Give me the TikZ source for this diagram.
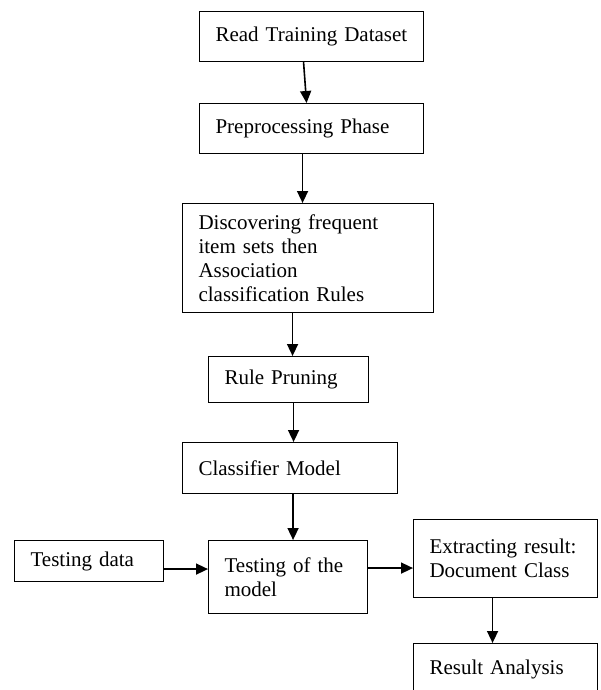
\documentclass[tikz,border=0pt]{standalone}
\usepackage{fontspec}
\setmainfont{Liberation Serif}
\usetikzlibrary{arrows.meta}

\begin{document}
\begin{tikzpicture}[x=1pt, y=-1pt,
		stage/.style={draw, line width=1.1pt, anchor=north west, align=left, inner xsep=16pt, inner ysep=0pt, font=\fontsize{21}{24}\selectfont},
		flow/.style={-{Triangle[length=12pt, width=11pt]}, line width=1.6pt}]
	%%%%% START %%%%%
	\useasboundingbox (0, 0) rectangle (601, 690);
	\clip (0, 0) rectangle (601, 690);
	
	\node[stage, text width=192pt, minimum height=50pt] (read) at (199, 11) {Read Training Dataset};
	\node[stage, text width=192pt, minimum height=50pt] (prep) at (199, 103) {Preprocessing Phase};
	\node[stage, text width=219pt, minimum height=109pt] (disc) at (182, 203) {Discovering frequent\\item sets then\\Association\\classification Rules};
	\node[stage, text width=128pt, minimum height=46pt] (prune) at (208, 356) {Rule Pruning};
	\node[stage, text width=183pt, minimum height=51pt] (clf) at (182, 442) {Classifier Model};
	
	\node[stage, text width=117pt, minimum height=41pt] (tdata) at (14, 540) {Testing data};
	\node[stage, text width=127pt, minimum height=73pt] (tmodel) at (208, 540) {Testing of the\\model};
	\node[stage, text width=152pt, minimum height=78pt] (extract) at (413, 519) {Extracting result:\\Document Class};
	\node[stage, text width=152pt, minimum height=52pt] (result) at (413, 643) {Result Analysis};
	
	\draw[flow] ([xshift=-8pt]read.south) -- ([xshift=-5pt]prep.north);
	\draw[flow] ([xshift=-9pt]prep.south) -- ([xshift=-9pt]prep.south |- disc.north);
	\draw[flow] ([xshift=4pt]prune.north |- disc.south) -- ([xshift=4pt]prune.north);
	\draw[flow] ([xshift=5pt]prune.south) -- ([xshift=5pt]prune.south |- clf.north);
	\draw[flow] ([xshift=5pt]tmodel.north |- clf.south) -- ([xshift=5pt]tmodel.north);
	
	\draw[flow] ([yshift=-8pt]tdata.east) -- ([yshift=-8pt]tdata.east -| tmodel.west);
	\draw[flow] ([yshift=9pt]tmodel.east) -- ([yshift=9pt]tmodel.east -| extract.west);
	\draw[flow] ([xshift=-13pt]extract.south) -- ([xshift=-13pt]result.north);
	%%%%% END %%%%%
\end{tikzpicture}
\end{document}
